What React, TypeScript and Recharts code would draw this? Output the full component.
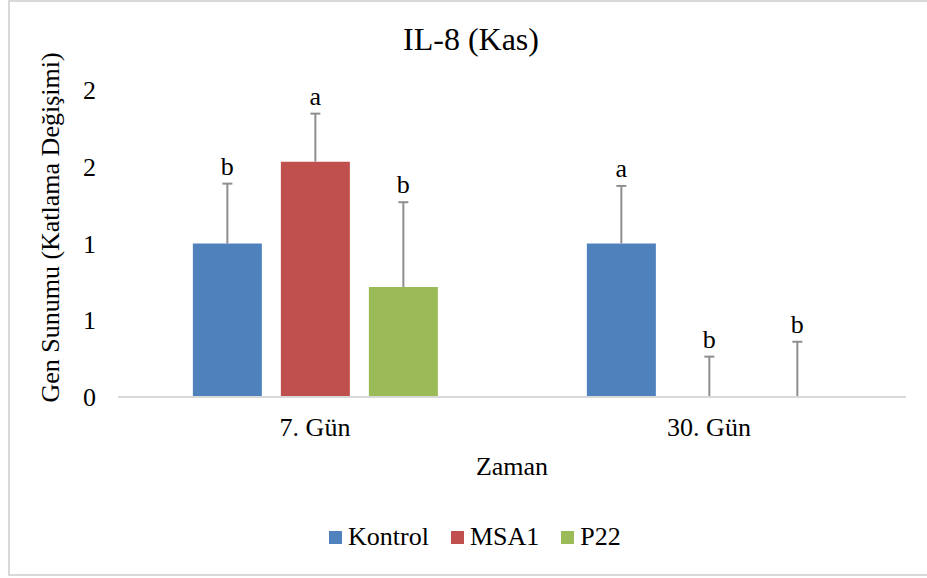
import React from 'react';
import { BarChart, Bar, XAxis, YAxis, Legend, LabelList, Label } from 'recharts';

const categories = ['7. Gün', '30. Gün'];
const kontrol = [1.0, 1.0];
const kontrolErr = [0.39, 0.375];
const msa1 = [1.533, 0];
const msa1Err = [0.313, 0.263];
const p22 = [0.717, 0];
const p22Err = [0.552, 0.36];
const kontrolSig = ['b', 'a'];
const msa1Sig = ['a', 'b'];
const p22Sig = ['b', 'b'];
const yTicks = [0, 0.5, 1, 1.5, 2];

const FONT = '"Liberation Serif", "Times New Roman", Tinos, serif';
const C_K = '#4f81bd';
const C_M = '#c0504d';
const C_P = '#9bbb59';
const ERR = '#8e8e8e';

const data = categories.map((cat, i) => ({
  cat,
  k: kontrol[i],
  kErr: kontrolErr[i],
  kSig: kontrolSig[i],
  m: msa1[i],
  mErr: msa1Err[i],
  mSig: msa1Sig[i],
  p: p22[i],
  pErr: p22Err[i],
  pSig: p22Sig[i],
}));

const ErrShape = (props: any) => {
  const { x, y, width, height } = props;
  if (x == null || y == null) return null;
  const cx = x + width / 2;
  return (
    <g>
      <line x1={cx} y1={y + height} x2={cx} y2={y} stroke={ERR} strokeWidth={2} />
      <line x1={cx - 5} y1={y} x2={cx + 5} y2={y} stroke={ERR} strokeWidth={2} />
    </g>
  );
};

const renderLegend = (props: any) => {
  const items = (props.payload || []).filter((e: any) => e.type !== 'none');
  return (
    <div style={{ display: 'flex', alignItems: 'center', fontFamily: FONT, fontSize: 26, lineHeight: 1, color: '#000' }}>
      {items.map((e: any, i: number) => (
        <div key={i} style={{ display: 'flex', alignItems: 'center', marginRight: 22 }}>
          <span style={{ display: 'inline-block', width: 13, height: 13, background: e.color, marginRight: 6 }} />
          <span style={{ fontFamily: FONT }}>{e.value}</span>
        </div>
      ))}
    </div>
  );
};

const renderYLabel = (props: any) => {
  const vb = props.viewBox || { x: 0, y: 90, width: 118, height: 307 };
  const cx = vb.x + 59;
  const cy = vb.y + vb.height / 2 - 16;
  return (
    <text x={cx} y={cy} transform={`rotate(-90, ${cx}, ${cy})`} textAnchor="middle" fontFamily={FONT} fontSize={26} fill="#000">
      Gen Sunumu (Katlama Değişimi)
    </text>
  );
};

const textStyle = { fill: '#000', fontSize: 26, fontFamily: FONT };

export default function App() {
  return (
    <div style={{ position: 'absolute', left: 0, top: 0, width: 927, height: 578, background: '#fff', fontFamily: FONT }}>
      <BarChart
        width={927}
        height={578}
        data={data}
        margin={{ top: 90, right: 21, bottom: 0, left: 0 }}
        barCategoryGap="19%"
        barGap={19}
      >
        <XAxis
          dataKey="cat"
          height={181}
          axisLine={{ stroke: '#d9d9d9', strokeWidth: 2 }}
          tickLine={false}
          tickSize={0}
          tickMargin={21}
          tick={{ fill: '#000', fontSize: 26, fontFamily: FONT }}
        >
          <Label value="Zaman" position="insideTop" offset={60} fontFamily={FONT} fontSize={26} fill="#000" />
        </XAxis>
        <YAxis
          width={118}
          domain={[0, 2]}
          ticks={yTicks}
          axisLine={false}
          tickLine={false}
          tickSize={0}
          tickMargin={22}
          tickFormatter={(v: number) => String(Math.round(v))}
          tick={{ fill: '#000', fontSize: 26, fontFamily: FONT }}
        >
          <Label content={renderYLabel} />
        </YAxis>
        <Legend
          verticalAlign="middle"
          align="center"
          layout="horizontal"
          content={renderLegend}
          wrapperStyle={{ top: 524, left: 329, width: 330 }}
        />
        <Bar dataKey="k" name="Kontrol" stackId="k" fill={C_K} isAnimationActive={false} />
        <Bar dataKey="kErr" stackId="k" legendType="none" shape={ErrShape} isAnimationActive={false}>
          <LabelList dataKey="kSig" position="top" offset={9} fontFamily={FONT} fontSize={26} fill="#000" />
        </Bar>
        <Bar dataKey="m" name="MSA1" stackId="m" fill={C_M} isAnimationActive={false} />
        <Bar dataKey="mErr" stackId="m" legendType="none" shape={ErrShape} isAnimationActive={false}>
          <LabelList dataKey="mSig" position="top" offset={9} fontFamily={FONT} fontSize={26} fill="#000" />
        </Bar>
        <Bar dataKey="p" name="P22" stackId="p" fill={C_P} isAnimationActive={false} />
        <Bar dataKey="pErr" stackId="p" legendType="none" shape={ErrShape} isAnimationActive={false}>
          <LabelList dataKey="pSig" position="top" offset={9} fontFamily={FONT} fontSize={26} fill="#000" />
        </Bar>
      </BarChart>
      <svg width={927} height={578} style={{ position: 'absolute', left: 0, top: 0, pointerEvents: 'none' }}>
        <line x1={9} y1={1} x2={927} y2={1} stroke="#d9d9d9" strokeWidth={2} />
        <line x1={9} y1={0} x2={9} y2={576} stroke="#d9d9d9" strokeWidth={2} />
        <line x1={9} y1={575} x2={927} y2={575} stroke="#d9d9d9" strokeWidth={2} />
        <text x={471} y={50} textAnchor="middle" fontFamily={FONT} fontSize={32} fill="#000">
          IL-8 (Kas)
        </text>
      </svg>
    </div>
  );
}
